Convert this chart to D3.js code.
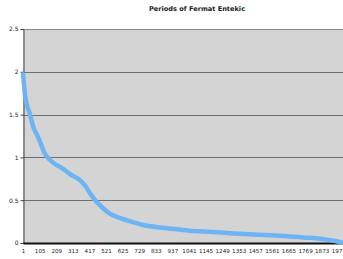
<!DOCTYPE html>
<html>
<head>
<meta charset="utf-8">
<script src="https://cdn.jsdelivr.net/npm/d3@7"></script>
<style>
  body { margin: 0; background: #fff; overflow: hidden; }
  svg { display: block; font-family: "DejaVu Sans", Verdana, sans-serif; }
</style>
</head>
<body>
<script>
// Chart data
var chartTitle = "Periods of Fermat Entekic";
var periodCount = 2000;
var periodIndex = [1, 7, 13, 26, 45, 64, 89, 108, 126, 139, 170, 202, 233, 264, 308, 346,
                   390, 421, 453, 484, 515, 547, 610, 680, 754, 860, 967, 1070, 1174, 1300,
                   1444, 1550, 1657, 1760, 1864, 1940, 2000];
var periodValue = [1.97, 1.85, 1.73, 1.61, 1.5, 1.36, 1.26, 1.18, 1.09, 1.04, 0.97, 0.92, 0.89,
                   0.85, 0.79, 0.75, 0.67, 0.58, 0.5, 0.44, 0.385, 0.34, 0.29, 0.25, 0.21, 0.18,
                   0.16, 0.14, 0.13, 0.115, 0.1, 0.09, 0.08, 0.065, 0.05, 0.03, 0.005];
var xTickLabels = [1, 105, 209, 313, 417, 521, 625, 729, 833, 937, 1041, 1145, 1249, 1353,
                   1457, 1561, 1665, 1769, 1873, 1977];
var yTicks = [0, 0.5, 1, 1.5, 2, 2.5];

window.onload = function() {
  var w = 343, h = 259;
  var left = 23, top = 29, bottom = 243, right = 342;

  var svg = d3.select("body").append("svg").attr("width", w).attr("height", h);

  // Scales
  var xScale = d3.scaleLinear().domain([0.5, periodCount + 0.5]).range([left, right]);
  var yScale = d3.scaleLinear().domain([0, 2.5]).range([bottom, top]);

  // Plot area background
  svg.append("rect").attr("x", left).attr("y", top)
     .attr("width", w - left).attr("height", bottom - top)
     .attr("fill", "#d4d4d4");

  // Gridlines
  svg.selectAll("line.grid").data(yTicks.slice(1)).enter().append("line")
     .attr("class", "grid")
     .attr("x1", left).attr("x2", w)
     .attr("y1", function(d) { return Math.round(yScale(d)) + 0.5; })
     .attr("y2", function(d) { return Math.round(yScale(d)) + 0.5; })
     .attr("stroke", function(d) { return d == 2.5 ? "#8a8a8a" : "#6f6f6f"; })
     .attr("stroke-width", 1);

  // Y axis
  var yAxis = d3.axisLeft(yScale).tickValues(yTicks).tickSize(3).tickPadding(2)
                .tickFormat(function(d) { return d; });
  var gy = svg.append("g").attr("transform", "translate(" + (left + 0.5) + ",0)").call(yAxis);
  gy.select(".domain").attr("stroke", "#444");
  gy.selectAll(".tick line").attr("stroke", "#444");
  gy.selectAll("text").attr("font-size", 6).attr("font-family", "DejaVu Sans")
    .attr("fill", "#222");

  // X axis (category labels every 104 periods)
  var xAxis = d3.axisBottom(xScale).tickValues(xTickLabels).tickSize(0).tickPadding(6)
                .tickFormat(function(d) { return d; });
  var gx = svg.append("g").attr("transform", "translate(0," + bottom + ")").call(xAxis);
  gx.select(".domain").attr("stroke", "#111").attr("stroke-width", 2);
  gx.selectAll("text").attr("font-size", 5.6).attr("font-family", "DejaVu Sans")
    .attr("fill", "#222");

  // Series line
  var points = periodIndex.map(function(d, i) { return [d, periodValue[i]]; });
  var line = d3.line()
               .x(function(d) { return xScale(d[0]); })
               .y(function(d) { return yScale(d[1]); })
               .curve(d3.curveMonotoneX);
  svg.append("path").datum(points)
     .attr("d", line)
     .attr("fill", "none")
     .attr("stroke", "#6cb4f3")
     .attr("stroke-width", 4.5)
     .attr("stroke-linecap", "round")
     .attr("stroke-linejoin", "round");

  // Title
  svg.append("text").attr("x", 197).attr("y", 11)
     .attr("text-anchor", "middle")
     .attr("font-size", 6.6).attr("font-weight", "bold")
     .attr("fill", "#222")
     .text(chartTitle);
};
</script>
</body>
</html>
